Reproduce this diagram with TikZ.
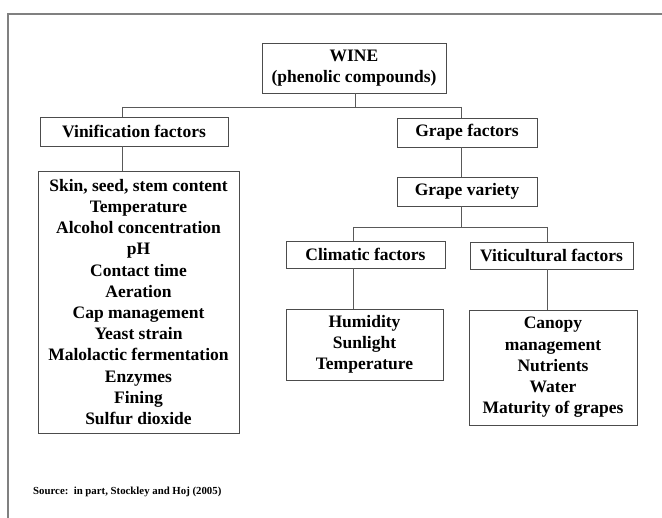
\documentclass[tikz,border=0pt]{standalone}
\usepackage{fontspec}
\setmainfont{Liberation Serif}
\begin{document}
\begin{tikzpicture}[x=1pt,y=-1pt,
  box/.style={draw=black!70, line width=0.9pt, inner sep=0pt, align=center,
    font=\bfseries\fontsize{17.5}{21.2}\selectfont, text=black},
  link/.style={draw=black!65, line width=0.9pt}]
\useasboundingbox[fill=white] (0,0) rectangle (662,518);
\draw[black!50, line width=1.6pt] (8,518) -- (8,14) -- (662,14);

\node[box, minimum width=184pt, minimum height=50pt] (wine) at (354,68) {WINE\\(phenolic compounds)};
\node[box, minimum width=188pt, minimum height=29pt] (vin) at (134,131.5) {Vinification factors};
\node[box, minimum width=201pt, minimum height=262pt] (vlist) at (138.5,302)
  {Skin, seed, stem content\\Temperature\\Alcohol concentration\\pH\\Contact time\\Aeration\\Cap management\\Yeast strain\\Malolactic fermentation\\Enzymes\\Fining\\Sulfur dioxide};
\node[box, minimum width=140pt, minimum height=29pt] (gf) at (467,132.5) {Grape factors};
\node[box, minimum width=140pt, minimum height=29pt] (gv) at (467,191.5) {Grape variety};
\node[box, minimum width=159pt, minimum height=27pt] (clim) at (365.5,254.5) {Climatic factors};
\node[box, minimum width=163pt, minimum height=27pt] (vit) at (551.5,255.5) {Viticultural factors};
\node[box, minimum width=157pt, minimum height=71pt] (clist) at (364.5,344.5) {Humidity\\Sunlight\\Temperature};
\node[box, minimum width=168pt, minimum height=115pt] (vitlist) at (553,367.5) {Canopy\\management\\Nutrients\\Water\\Maturity of grapes};

\node[anchor=west, inner sep=0pt, font=\bfseries\fontsize{10.8}{12}\selectfont, text=black] (src) at (33,492)
  {Source:\ \ in part, Stockley and Hoj (2005)};

\coordinate (wj) at (355,107);
\coordinate (vj) at (122,107);
\coordinate (gj) at (461,107);
\coordinate (cj) at (353,227);
\coordinate (tj) at (547,227);
\coordinate (mj) at (461,227);

\draw[link] (wj |- wine.south) -- (wj);
\draw[link] (vj) -- (gj);
\draw[link] (vj) -- (vj |- vin.north);
\draw[link] (gj) -- (gj |- gf.north);
\draw[link] (vj |- vin.south) -- (vj |- vlist.north);
\draw[link] (gj |- gf.south) -- (gj |- gv.north);
\draw[link] (mj |- gv.south) -- (mj);
\draw[link] (cj) -- (tj);
\draw[link] (cj) -- (cj |- clim.north);
\draw[link] (tj) -- (tj |- vit.north);
\draw[link] (cj |- clim.south) -- (cj |- clist.north);
\draw[link] (tj |- vit.south) -- (tj |- vitlist.north);
\end{tikzpicture}
\end{document}
